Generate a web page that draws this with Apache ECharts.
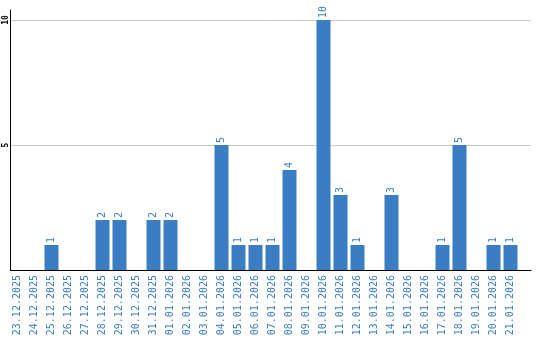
<!DOCTYPE html>
<html><head><meta charset="utf-8">
<script src="https://cdn.jsdelivr.net/npm/echarts@6/dist/echarts.min.js"></script>
<style>html,body{margin:0;padding:0;background:#fff}#c{width:540px;height:340px}</style>
</head><body><div id="c"></div>
<script>
const categories = ["23.12.2025","24.12.2025","25.12.2025","26.12.2025","27.12.2025","28.12.2025","29.12.2025","30.12.2025","31.12.2025","01.01.2026","02.01.2026","03.01.2026","04.01.2026","05.01.2026","06.01.2026","07.01.2026","08.01.2026","09.01.2026","10.01.2026","11.01.2026","12.01.2026","13.01.2026","14.01.2026","15.01.2026","16.01.2026","17.01.2026","18.01.2026","19.01.2026","20.01.2026","21.01.2026"];
const values = [0,0,1,0,0,2,2,0,2,2,0,0,5,1,1,1,4,0,10,3,1,0,3,0,0,1,5,0,1,1];
const yTicks = [5,10];

const blue = '#3a7dc2';
const chart = echarts.init(document.getElementById('c'));
chart.setOption({
  animation: false,
  grid: [
    {left: 9, top: 10, width: 510, bottom: 70, containLabel: false},
    {left: 10.5, right: 9, top: 20, bottom: 70, containLabel: false}
  ],
  xAxis: [
    {type: 'category', gridIndex: 0, data: categories,
     axisLine: {show: false}, axisTick: {show: false},
     axisLabel: {rotate: 90, interval: 0, color: blue, fontFamily: 'DejaVu Sans Mono', fontSize: 10, margin: 5}},
    {type: 'value', gridIndex: 1, min: 0, max: 1,
     axisLine: {show: true, lineStyle: {color: '#000', width: 1}}, axisTick: {show: false},
     axisLabel: {show: false}, splitLine: {show: false}}
  ],
  yAxis: [
    {type: 'value', gridIndex: 0, min: 0, max: 10.4, offset: -1.5,
     axisLine: {show: true, lineStyle: {color: '#000', width: 1}}, axisTick: {show: false},
     axisLabel: {show: false}, splitLine: {show: false}},
    {type: 'value', gridIndex: 1, min: 0, max: 10, interval: 5,
     axisLine: {show: false}, axisTick: {show: false},
     axisLabel: {rotate: 90, color: '#000', fontFamily: 'DejaVu Sans Mono', fontSize: 8, fontWeight: 'bold', margin: 1,
       formatter: v => yTicks.indexOf(v) >= 0 ? String(v) : ''},
     splitLine: {show: true, lineStyle: {color: '#c8c8c8', width: 1}}}
  ],
  series: [{
    type: 'bar', xAxisIndex: 0, yAxisIndex: 0, data: values, barWidth: 14,
    itemStyle: {color: blue},
    label: {show: true, position: 'top', rotate: 90, align: 'left', verticalAlign: 'middle', distance: 2,
      color: blue, fontFamily: 'DejaVu Sans Mono', fontSize: 10,
      formatter: p => p.value > 0 ? String(p.value) : ''}
  }]
});
</script></body></html>
